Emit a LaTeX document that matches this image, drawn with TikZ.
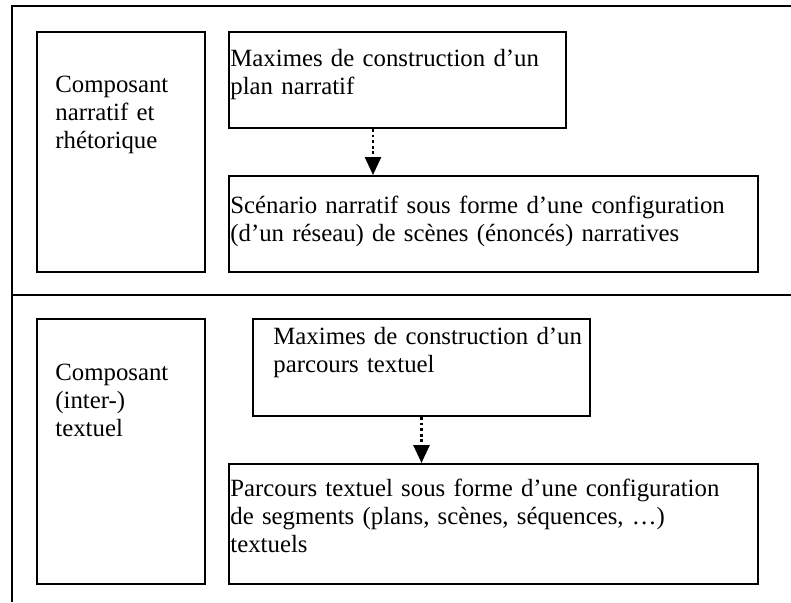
\documentclass[tikz,border=0pt]{standalone}
\usepackage{fontspec}
\setmainfont{Liberation Serif}
\usetikzlibrary{arrows.meta}
\definecolor{col_000000}{RGB}{0,0,0}
\newcommand{\tikzdrawblock}[5]{%
\node[block, minimum width=#4*0.5pt, minimum height=#5*0.5pt] (#1) at (#2,#3) {};
}

\begin{document}
\begin{tikzpicture}[x=0.5pt, y=-0.5pt,
  block/.style={draw=col_000000, line width=1pt, anchor=north west, inner sep=0pt},
  blocktext/.style={anchor=base west, inner sep=0pt, text width=#1, align=left,
    font=\fontsize{12.4}{14}\selectfont},
  flow/.style={draw=col_000000, line width=1.3pt, dash pattern=on 1.4pt off 1.4pt,
    -{Triangle[width=8pt,length=9pt]}}]
\useasboundingbox (0,0) rectangle (791,602);
\draw[col_000000, line width=1.1pt] (12,602) -- (12,6) -- (791,6);     %% outer frame
\draw[col_000000, line width=1.1pt] (12,295) -- (791,295);     %% divider
\tikzdrawblock{comp1}{36}{31}{168}{240}
\tikzdrawblock{plan1}{228}{31}{337}{96}
\tikzdrawblock{scen1}{228}{175}{529}{96}
\tikzdrawblock{comp2}{36}{318}{168}{265}
\tikzdrawblock{plan2}{252}{318}{337}{97}
\tikzdrawblock{scen2}{228}{463}{529}{120}
\node[blocktext=70pt] (comp1t) at (55,92) {Composant\\narratif et\\rhétorique};
\node[blocktext=165pt] (plan1t) at (230,66) {Maximes de construction d’un\\plan narratif};
\node[blocktext=260pt] (scen1t) at (230,213) {Scénario narratif sous forme d’une configuration\\(d’un réseau) de scènes (énoncés) narratives};
\node[blocktext=70pt] (comp2t) at (55,380) {Composant\\(inter-)\\textuel};
\node[blocktext=160pt] (plan2t) at (273,344) {Maximes de construction d’un\\parcours textuel};
\node[blocktext=260pt] (scen2t) at (230,496) {Parcours textuel sous forme d’une configuration\\de segments (plans, scènes, séquences, …)\\textuels};
\coordinate (arr1) at (373,0);
\draw[flow] (plan1.south -| arr1) -- (scen1.north -| arr1);
\draw[flow] (plan2.south) -- (plan2.south |- scen2.north);
\end{tikzpicture}
\end{document}
